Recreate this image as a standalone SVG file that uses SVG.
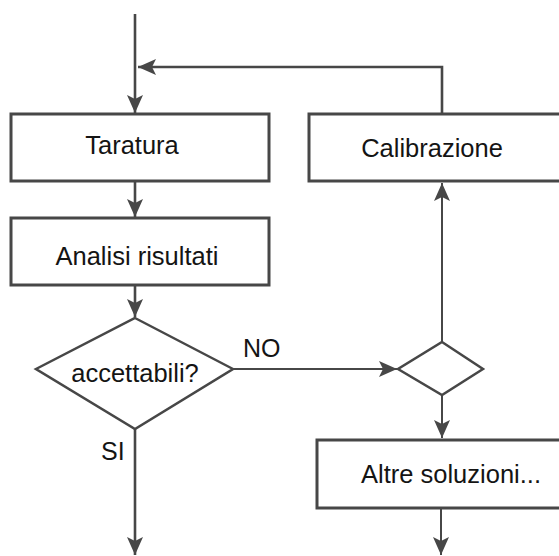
<svg xmlns="http://www.w3.org/2000/svg" width="559" height="556" viewBox="0 0 559 556">
<style>
  .box{fill:#fff;stroke:#474747;stroke-width:3}
  .dia{fill:#fff;stroke:#474747;stroke-width:2.5}
  .ln{fill:none;stroke:#474747;stroke-width:2.6}
  .thin{fill:none;stroke:#474747;stroke-width:2}
  text{font-family:"Liberation Sans",Arial,sans-serif;font-size:25.5px;fill:#141414}
  .lbl{font-size:25px}
</style>
<defs>
  <marker id="ah" markerUnits="userSpaceOnUse" markerWidth="20" markerHeight="18" refX="18" refY="8" orient="auto">
    <path d="M0,0 L18,8 L0,16 L4,8 Z" fill="#474747"/>
  </marker>
</defs>
<rect width="559" height="556" fill="#fff"/>
<g id="connectors">
  <path class="ln" d="M135,14 V113" marker-end="url(#ah)"/>
  <path class="ln" d="M442,114 V67 H138" marker-end="url(#ah)"/>
  <path class="ln" d="M135,181 V217" marker-end="url(#ah)"/>
  <path class="ln" d="M135,285 V317" marker-end="url(#ah)"/>
  <path class="thin" d="M233,369 H397" marker-end="url(#ah)"/>
  <path class="thin" d="M442,342 V183" marker-end="url(#ah)"/>
  <path class="thin" d="M442,395 V438" marker-end="url(#ah)"/>
  <path class="ln" d="M135,429 V555" marker-end="url(#ah)"/>
  <path class="thin" d="M441,508 V555" marker-end="url(#ah)"/>
  <text class="lbl" x="243" y="357">NO</text>
  <text class="lbl" x="101" y="460">SI</text>
</g>
<g id="taratura">
  <rect class="box" x="11" y="114" width="258" height="67"/>
  <text x="132" y="154" text-anchor="middle">Taratura</text>
</g>
<g id="analisi">
  <rect class="box" x="11" y="218" width="258" height="67"/>
  <text x="137" y="265" text-anchor="middle">Analisi risultati</text>
</g>
<g id="accettabili">
  <polygon class="dia" points="135,318 233,369 135,429 36,369"/>
  <text x="135" y="382" text-anchor="middle">accettabili?</text>
</g>
<g id="calibrazione">
  <rect class="box" x="309" y="114" width="270" height="67"/>
  <text x="432" y="157" text-anchor="middle">Calibrazione</text>
</g>
<g id="decisione2">
  <polygon class="dia" points="442,342 483,369 442,395 398,369"/>
</g>
<g id="altre">
  <rect class="box" x="317" y="440" width="270" height="68"/>
  <text x="451" y="483" text-anchor="middle">Altre soluzioni...</text>
</g>
</svg>
